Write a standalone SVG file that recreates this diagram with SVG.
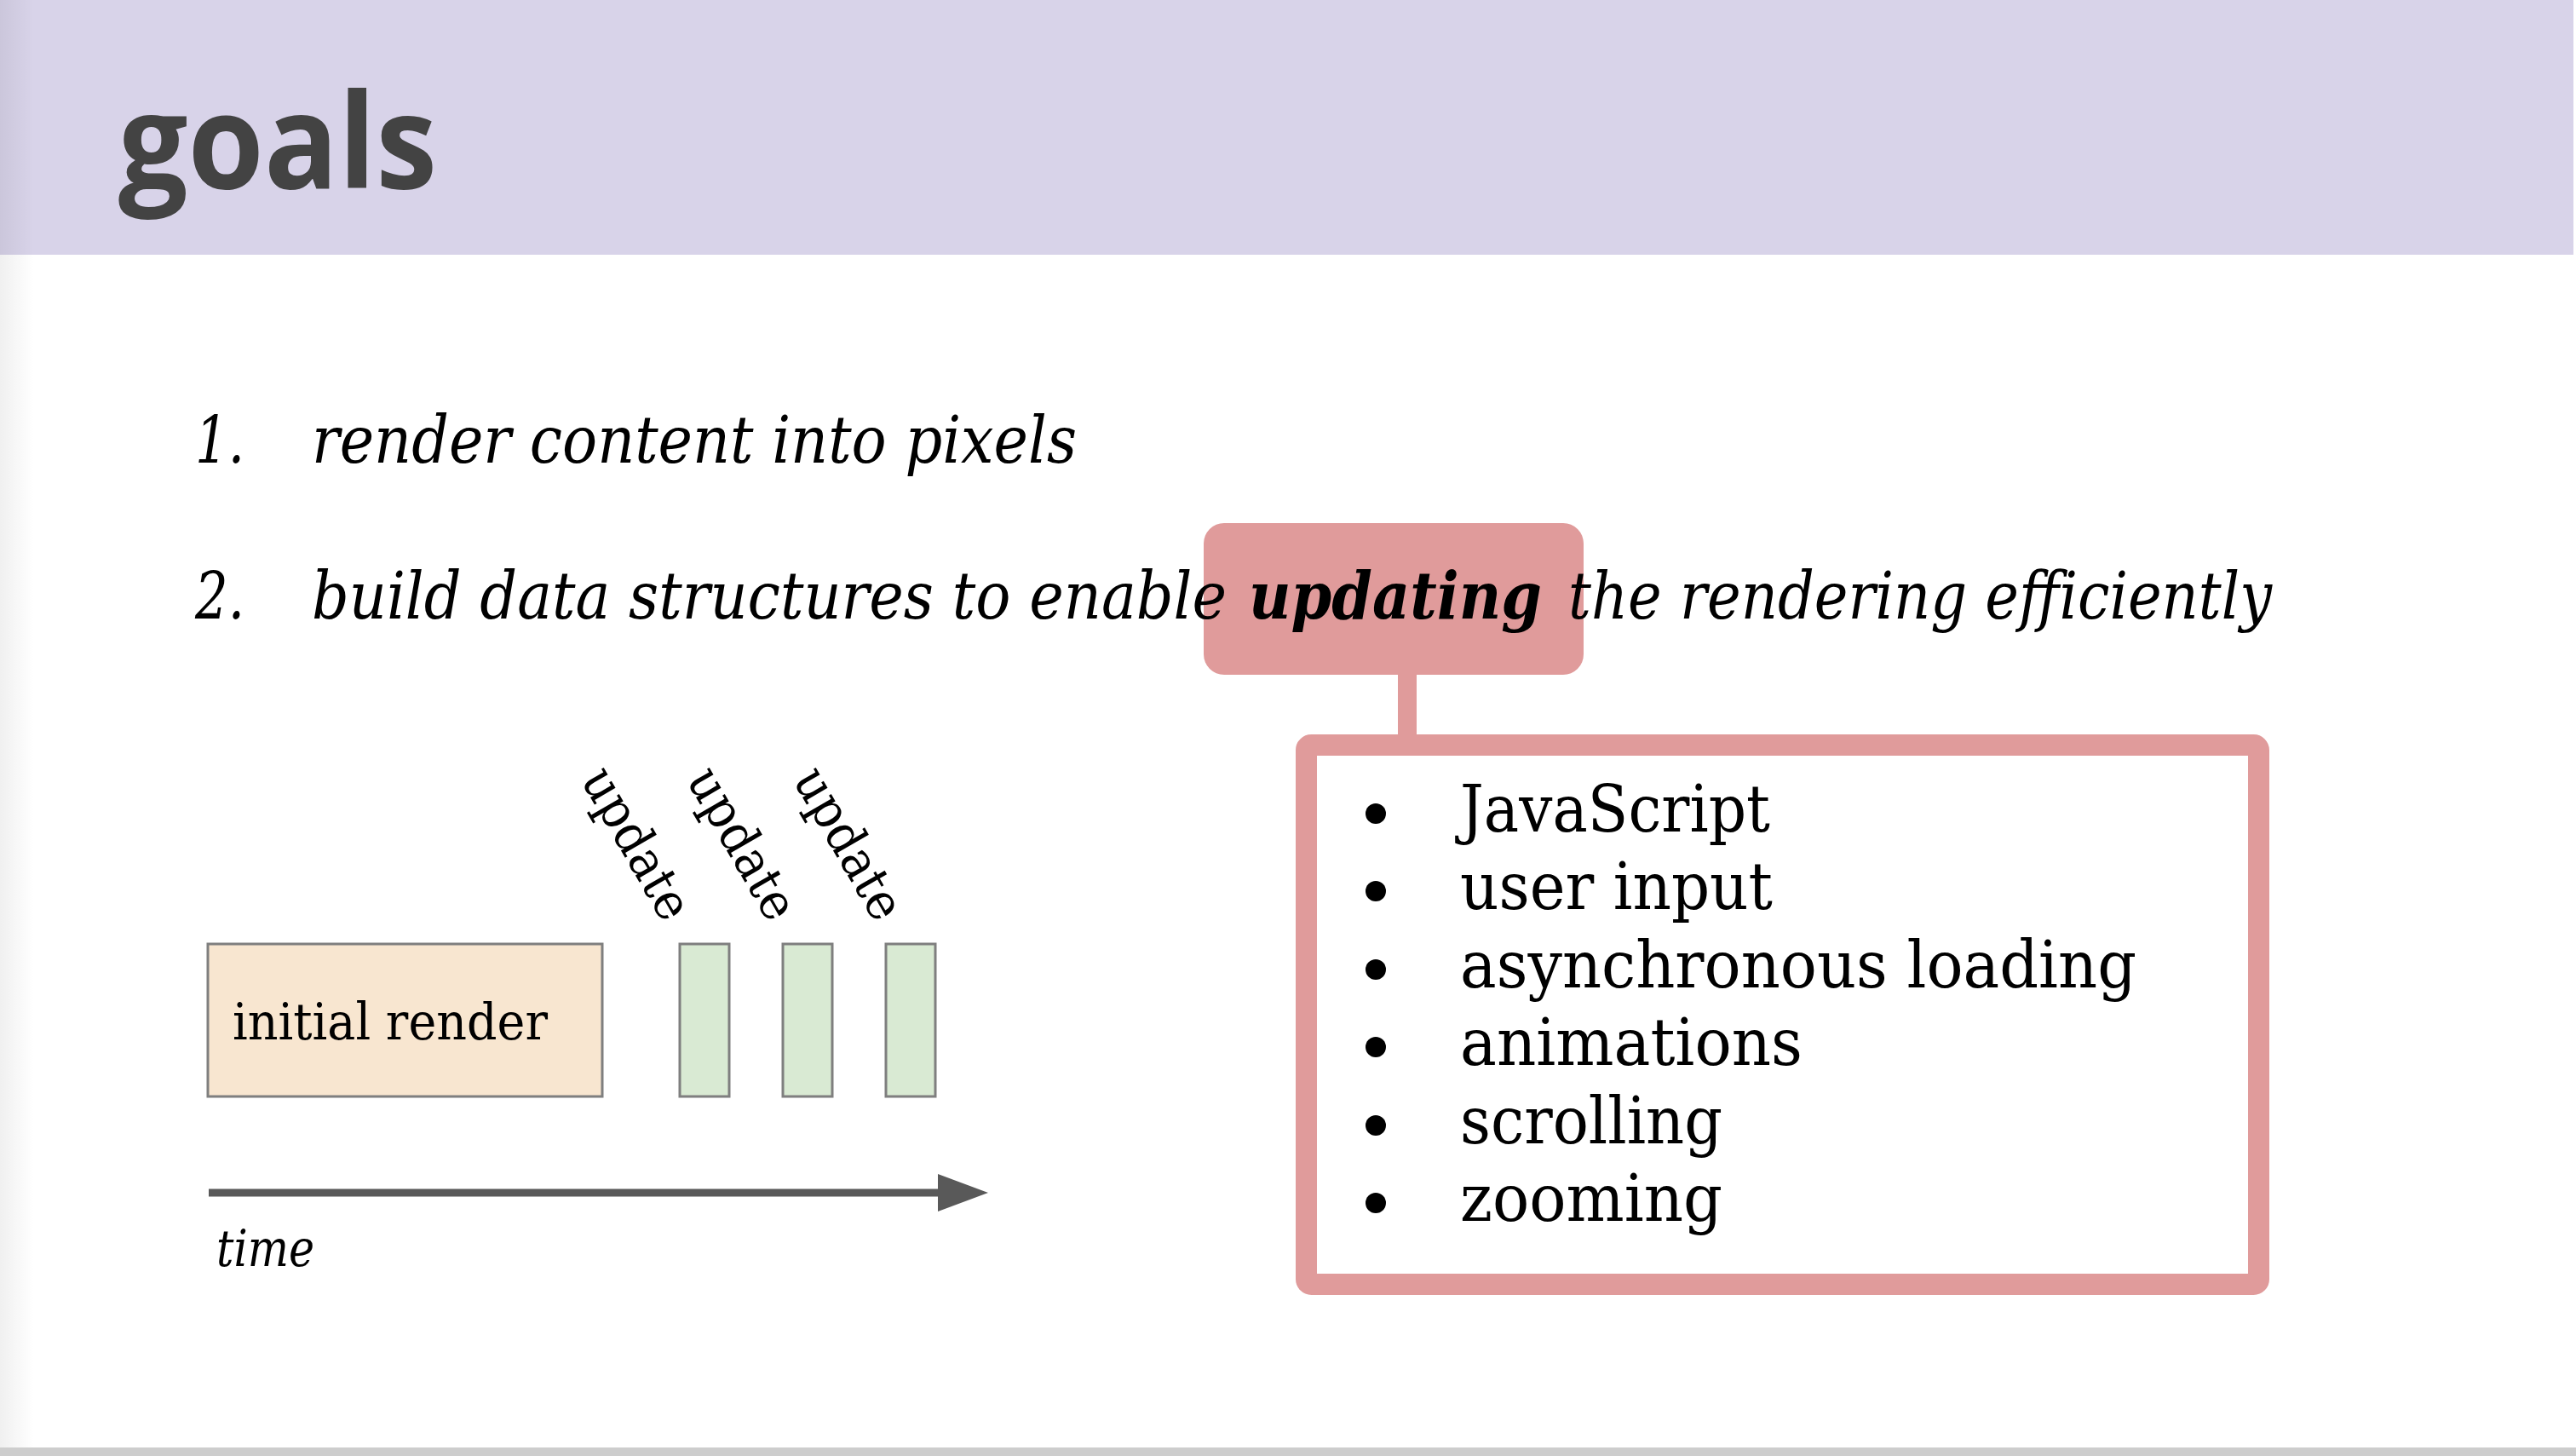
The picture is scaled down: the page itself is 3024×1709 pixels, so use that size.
<svg xmlns="http://www.w3.org/2000/svg" width="3024" height="1709" viewBox="0 0 3024 1709">
  <style>
    .serif { font-family: "DejaVu Serif", "Liberation Serif", serif; fill: #000; }
    .it { font-style: italic; }
    .item { font-size: 76px; }
    .list { font-size: 76px; }
    .small { font-size: 60px; }
    .box { stroke: #7f7f7f; stroke-width: 3; }
    .pink { fill: #e09b9b; }
  </style>
  <defs>
    <linearGradient id="leftShade" x1="0" y1="0" x2="1" y2="0">
      <stop offset="0" stop-color="#000" stop-opacity="0.06"/>
      <stop offset="1" stop-color="#000" stop-opacity="0"/>
    </linearGradient>
    <marker id="arrowHead" markerUnits="userSpaceOnUse" markerWidth="60" markerHeight="46" refX="2" refY="23" orient="auto">
      <path d="M0,1 L59,23 L0,45 z" fill="#595959"/>
    </marker>
  </defs>

  <rect x="0" y="0" width="3024" height="1709" fill="#ffffff"/>
  <rect id="header" x="0" y="0" width="3021" height="299" fill="#d8d3e9"/>
  <rect x="0" y="0" width="40" height="1700" fill="url(#leftShade)"/>
  <rect x="0" y="1699" width="3024" height="10" fill="#cdcdcd"/>

  <g id="title">
    <text x="139" y="221" font-family="'Open Sans', 'Noto Sans', sans-serif" font-weight="bold" font-size="154" fill="#434343" textLength="374" lengthAdjust="spacingAndGlyphs">goals</text>
  </g>

  <g id="goal1">
    <text class="serif it item" x="229" y="543" textLength="58" lengthAdjust="spacingAndGlyphs">1.</text>
    <text class="serif it item" x="366" y="543" textLength="898" lengthAdjust="spacingAndGlyphs">render content into pixels</text>
  </g>

  <g id="callout">
    <rect class="pink" x="1413" y="614" width="446" height="178" rx="24" ry="24"/>
  </g>

  <g id="goal2">
    <text class="serif it item" x="229" y="726" textLength="58" lengthAdjust="spacingAndGlyphs">2.</text>
    <text class="serif it item" y="726"><tspan x="366" textLength="1074" lengthAdjust="spacingAndGlyphs">build data structures to enable</tspan><tspan x="1466" font-weight="bold" textLength="344" lengthAdjust="spacingAndGlyphs">updating</tspan><tspan x="1841" textLength="826" lengthAdjust="spacingAndGlyphs">the rendering efficiently</tspan></text>
  </g>

  <g id="connectors">
    <rect class="pink" x="1641" y="788" width="22" height="80"/>
    <line x1="245" y1="1400" x2="1103" y2="1400" stroke="#595959" stroke-width="9" marker-end="url(#arrowHead)"/>
  </g>

  <g id="sources">
    <rect x="1533.5" y="874.5" width="1118" height="633" fill="#ffffff" stroke="#e09b9b" stroke-width="25" rx="6" ry="6"/>
    <g fill="#000">
      <circle cx="1615" cy="955" r="12"/>
      <circle cx="1615" cy="1046" r="12"/>
      <circle cx="1615" cy="1138" r="12"/>
      <circle cx="1615" cy="1229" r="12"/>
      <circle cx="1615" cy="1321" r="12"/>
      <circle cx="1615" cy="1412" r="12"/>
    </g>
    <text class="serif list" x="1714" y="976" textLength="364" lengthAdjust="spacingAndGlyphs">JavaScript</text>
    <text class="serif list" x="1714" y="1067" textLength="367" lengthAdjust="spacingAndGlyphs">user input</text>
    <text class="serif list" x="1714" y="1159" textLength="794" lengthAdjust="spacingAndGlyphs">asynchronous loading</text>
    <text class="serif list" x="1714" y="1250" textLength="402" lengthAdjust="spacingAndGlyphs">animations</text>
    <text class="serif list" x="1714" y="1342" textLength="308" lengthAdjust="spacingAndGlyphs">scrolling</text>
    <text class="serif list" x="1714" y="1433" textLength="308" lengthAdjust="spacingAndGlyphs">zooming</text>
  </g>

  <g id="initial-render">
    <rect class="box" x="244" y="1108" width="463" height="179" fill="#f8e6d0"/>
    <text class="serif small" x="273" y="1220" textLength="370" lengthAdjust="spacingAndGlyphs">initial render</text>
  </g>

  <g id="update1">
    <rect class="box" x="798" y="1108" width="58" height="179" fill="#d9ead3"/>
    <text class="serif small" transform="translate(779,1085) rotate(60)" text-anchor="end" textLength="196" lengthAdjust="spacingAndGlyphs">update</text>
  </g>
  <g id="update2">
    <rect class="box" x="919" y="1108" width="58" height="179" fill="#d9ead3"/>
    <text class="serif small" transform="translate(903,1085) rotate(60)" text-anchor="end" textLength="196" lengthAdjust="spacingAndGlyphs">update</text>
  </g>
  <g id="update3">
    <rect class="box" x="1040" y="1108" width="58" height="179" fill="#d9ead3"/>
    <text class="serif small" transform="translate(1028,1085) rotate(60)" text-anchor="end" textLength="196" lengthAdjust="spacingAndGlyphs">update</text>
  </g>

  <g id="time-label">
    <text class="serif it small" x="254" y="1486" textLength="115" lengthAdjust="spacingAndGlyphs">time</text>
  </g>
</svg>
